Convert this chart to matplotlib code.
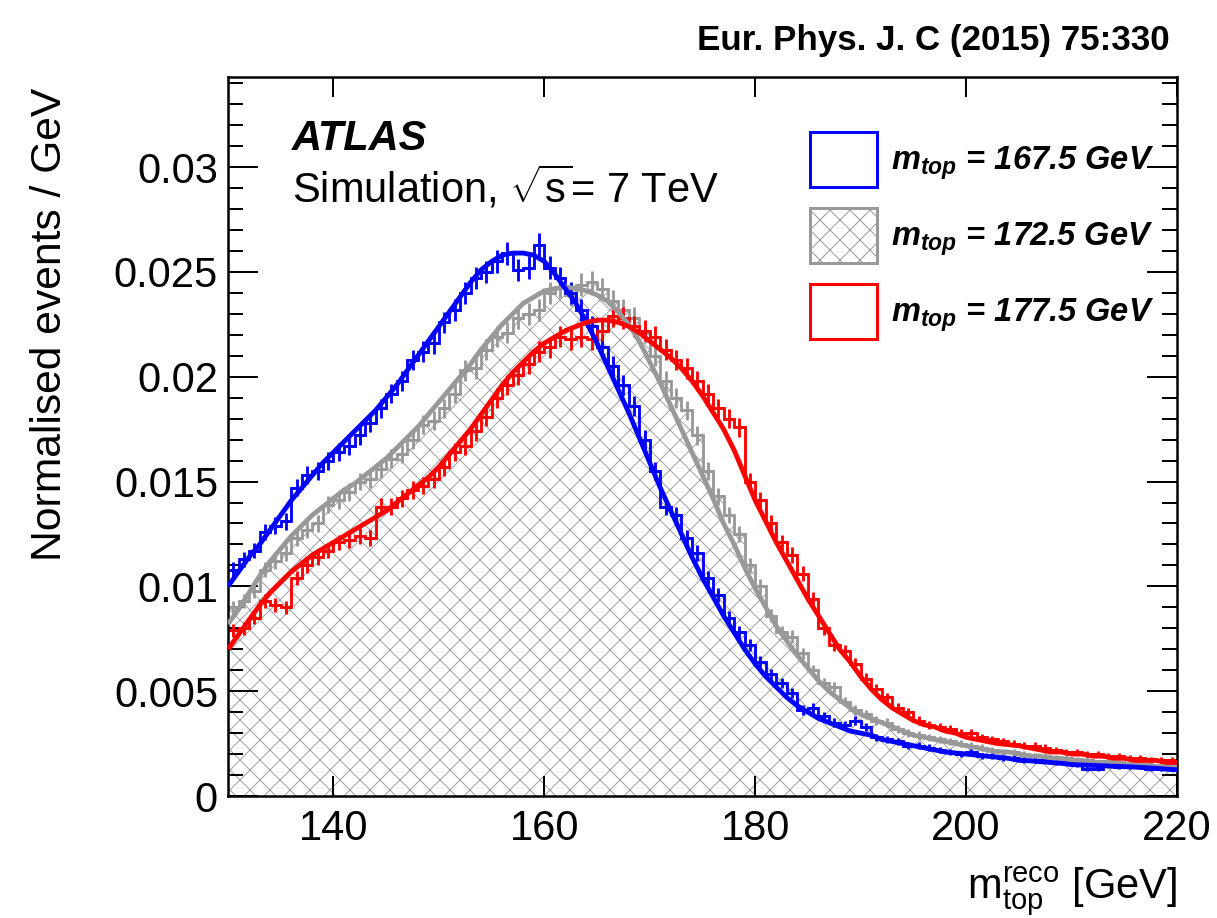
import numpy as np
import matplotlib
matplotlib.use("Agg")
import matplotlib.pyplot as plt
from matplotlib.patches import Patch
from matplotlib.font_manager import FontProperties
from matplotlib.ticker import MultipleLocator, FuncFormatter, FixedLocator

# ---- data ----
bin_edges = np.arange(130, 221)          # 1 GeV bins, 130..220
fit_x = np.arange(130, 221)

labels = ["167.5", "172.5", "177.5"]

# m_top = 167.5 GeV
blue_hist = [
    .0108, .0113, .0117, .0126, .0129, .0131, .0147, .0153, .0155, .0160,
    .0164, .0167, .0172, .0178, .0185, .0192, .0198, .0208, .0212, .0216,
    .0226, .0232, .0240, .0247, .0250, .0255, .0259, .0251, .0252, .0263,
    .0252, .0247, .0240, .0232, .0224, .0214, .0205, .0196, .0186, .0170,
    .0155, .0138, .0134, .0123, .0116, .0104, .0096, .0085, .0078, .0072,
    .0064, .0058, .0054, .0049, .0041, .0042, .0038, .0035, .0034, .0036,
    .0033, .0028, .0027, .0026, .0024, .0024, .0023, .0022, .0021, .0020,
    .0021, .0019, .0019, .0018, .0018, .0017, .0017, .0017, .0016, .0016,
    .0015, .0013, .0013, .0015, .0014, .0014, .0014, .0013, .0013, .0013,
]
blue_fit = [
    .0100, .0107, .0114, .0120, .0127, .0134, .0141, .0147, .0153, .0159,
    .0164, .0169, .0174, .0179, .0184, .0190, .0196, .0203, .0210, .0217,
    .0224, .0231, .0238, .0245, .0251, .0255, .0258, .0259, .0259, .0258,
    .0255, .0249, .0242, .0235, .0226, .0216, .0205, .0194, .0183, .0171,
    .0159, .0147, .0136, .0125, .0114, .0104, .0095, .0086, .0078, .0070,
    .0063, .0057, .0052, .0047, .0043, .0040, .0037, .0035, .0033, .0031,
    .0030, .0029, .0027, .0026, .0025, .0024, .0023, .0022, .0021, .00205,
    .0020, .00195, .0019, .00185, .0018, .0017, .00168, .00164, .0016, .00156,
    .0015, .00148, .00146, .00144, .00142, .0014, .00138, .00135, .00132, .00128,
    .00125,
]

# m_top = 172.5 GeV
gray_hist = [
    .0090, .0093, .0098, .0108, .0112, .0116, .0123, .0127, .0130, .0139,
    .0141, .0145, .0150, .0151, .0156, .0161, .0163, .0170, .0177, .0179,
    .0185, .0192, .0203, .0204, .0213, .0219, .0221, .0228, .0230, .0232,
    .0240, .0243, .0239, .0244, .0245, .0242, .0236, .0232, .0228, .0221,
    .0210, .0198, .0190, .0184, .0172, .0155, .0143, .0134, .0125, .0110,
    .0100, .0086, .0078, .0076, .0068, .0060, .0054, .0052, .0045, .0041,
    .0039, .0036, .0035, .0032, .0030, .0029, .0028, .0027, .0026, .0025,
    .0024, .0023, .0022, .0021, .0021, .0020, .0019, .0019, .0018, .0018,
    .0017, .0017, .0016, .0016, .0016, .0015, .0015, .0015, .0014, .0014,
]
gray_fit = [
    .0082, .0089, .0097, .0105, .0112, .0118, .0124, .0129, .0134, .0138,
    .0142, .0146, .0149, .0153, .0157, .0161, .0166, .0171, .0176, .0182,
    .0188, .0194, .0200, .0206, .0213, .0219, .0225, .0230, .0235, .0238,
    .0241, .0242, .0243, .0242, .0241, .0239, .0236, .0231, .0225, .0217,
    .0207, .0197, .0186, .0175, .0164, .0153, .0142, .0130, .0120, .0109,
    .0099, .0090, .0081, .0074, .0067, .0061, .0055, .0050, .0046, .0042,
    .0039, .0037, .0035, .0033, .0031, .0029, .0028, .0027, .0026, .0025,
    .0024, .0023, .0022, .0021, .0021, .0020, .0019, .0019, .0018, .0018,
    .0017, .0017, .0016, .0016, .0016, .0015, .0015, .0015, .0014, .0014,
    .0014,
]

# m_top = 177.5 GeV
red_hist = [
    .0079, .0080, .0085, .0093, .0091, .0090, .0104, .0110, .0114, .0117,
    .0121, .0122, .0124, .0123, .0138, .0138, .0142, .0146, .0148, .0151,
    .0157, .0164, .0167, .0174, .0181, .0190, .0196, .0201, .0206, .0212,
    .0214, .0219, .0218, .0219, .0218, .0222, .0229, .0228, .0224, .0222,
    .0219, .0213, .0208, .0204, .0198, .0192, .0185, .0180, .0176, .0150,
    .0141, .0130, .0121, .0115, .0106, .0094, .0080, .0072, .0069, .0063,
    .0056, .0051, .0047, .0042, .0040, .0036, .0034, .0033, .0032, .0030,
    .0030, .0028, .0027, .0026, .0025, .0024, .0024, .0023, .0022, .0021,
    .0021, .0020, .0020, .0019, .0019, .0018, .0018, .0017, .0017, .0017,
]
red_fit = [
    .0070, .0077, .0084, .0091, .0097, .0102, .0107, .0111, .0115, .0118,
    .0121, .0124, .0127, .0130, .0133, .0136, .0140, .0144, .0148, .0152,
    .0157, .0163, .0169, .0175, .0182, .0189, .0196, .0202, .0207, .0212,
    .0216, .0219, .0222, .0224, .0226, .0227, .0227, .0226, .0224, .0221,
    .0217, .0213, .0209, .0204, .0198, .0191, .0183, .0175, .0165, .0153,
    .0141, .0131, .0121, .0112, .0103, .0094, .0086, .0078, .0070, .0064,
    .0057, .0051, .0046, .0042, .0039, .0036, .0034, .0033, .0031, .0030,
    .0028, .0027, .0026, .0025, .00245, .0024, .0023, .0022, .0021, .0021,
    .0020, .0020, .0019, .0019, .0018, .0018, .0017, .0017, .0017, .0016,
    .0016,
]

# Poisson-like stat. error: err = k * sqrt(content)
err_scale = 0.0034

BLUE = "#0000ff"
GRAY = "#999999"
HATCH_GRAY = "#a0a0a0"
RED = "#ff0000"

# ---- style ----
plt.rcParams["font.family"] = ["Liberation Sans", "DejaVu Sans"]
plt.rcParams["mathtext.fontset"] = "custom"
plt.rcParams["mathtext.rm"] = "Liberation Sans"
plt.rcParams["mathtext.it"] = "Liberation Sans:italic"
plt.rcParams["mathtext.bf"] = "Liberation Sans:bold"
plt.rcParams["mathtext.bfit"] = "Liberation Sans:italic:bold"
plt.rcParams["hatch.linewidth"] = 0.6

DPI = 120
fig = plt.figure(figsize=(1217 / DPI, 918 / DPI), dpi=DPI)
ax = fig.add_axes([228 / 1217, 122 / 918, 949 / 1217, 719 / 918])

centers = 0.5 * (bin_edges[:-1] + bin_edges[1:])

# hatched area under the 172.5 histogram
ax.stairs(gray_hist, bin_edges, fill=True, facecolor="none",
          edgecolor=HATCH_GRAY, hatch="xx", lw=0, zorder=1)

for vals, col in [(gray_hist, GRAY), (blue_hist, BLUE), (red_hist, RED)]:
    vals = np.asarray(vals)
    ax.stairs(vals, bin_edges, baseline=None, color=col, lw=1.7, zorder=2)
    ax.errorbar(centers, vals, yerr=err_scale * np.sqrt(vals), xerr=0.5,
                fmt="none", ecolor=col, elinewidth=1.7, capsize=0, zorder=2)

for fit, col in [(gray_fit, GRAY), (blue_fit, BLUE), (red_fit, RED)]:
    ax.plot(fit_x, fit, color=col, lw=2.9, zorder=3, solid_capstyle="butt")

ax.set_xlim(130, 220)
ax.set_ylim(0, 0.0343)

ax.xaxis.set_major_locator(FixedLocator([140, 160, 180, 200, 220]))
ax.yaxis.set_major_locator(MultipleLocator(0.005))
ax.yaxis.set_minor_locator(MultipleLocator(0.001))
ax.yaxis.set_major_formatter(FuncFormatter(lambda v, p: "%g" % round(v, 4)))

ax.tick_params(which="both", direction="in", top=True, right=True,
               labelsize=25, width=1.2)
ax.tick_params(axis="y", which="major", length=18, pad=6)
ax.tick_params(axis="y", which="minor", length=9)
ax.tick_params(axis="x", which="major", length=12, pad=8)
for sp in ax.spines.values():
    sp.set_linewidth(1.5)

# legend
handles = [
    Patch(facecolor="white", edgecolor=BLUE, lw=1.8),
    Patch(facecolor="white", edgecolor=GRAY, hatch="xx", lw=1.8),
    Patch(facecolor="white", edgecolor=RED, lw=1.8),
]
leg_labels = [r"$\mathbfit{m}_{\mathbfit{top}}$ = %s GeV" % m for m in labels]
leg_font = FontProperties(family=["Liberation Sans", "DejaVu Sans"],
                          weight="bold", style="italic", size=19.6)
ax.legend(handles, leg_labels, loc="upper left", bbox_to_anchor=(0.613, 0.924),
          frameon=False, prop=leg_font, handlelength=2.05, handleheight=2.22,
          labelspacing=0.64, handletextpad=0.45, borderpad=0, borderaxespad=0)

# texts
fig.text(292 / 1217, 1 - 150 / 918, "ATLAS", fontsize=25, weight="bold",
         style="italic", va="baseline")
fig.text(292 / 1217, 1 - 203 / 918, r"Simulation, $\sqrt{\mathrm{s}}$= 7 TeV",
         fontsize=25, va="baseline")
fig.text(1170 / 1217, 1 - 50 / 918, "Eur. Phys. J. C (2015) 75:330",
         weight="bold", fontsize=21, ha="right", va="baseline")
fig.text(50 / 1217, 1 - 88 / 918, "Normalised events / GeV", rotation=90,
         fontsize=25.6, ha="center", va="top")
fig.text(1177 / 1217, 1 - 898 / 918,
         r"$\mathrm{m}_{\mathrm{top}}^{\mathrm{reco}}$ [GeV]",
         fontsize=25, ha="right", va="baseline")

fig.savefig("out.png", dpi=DPI)
